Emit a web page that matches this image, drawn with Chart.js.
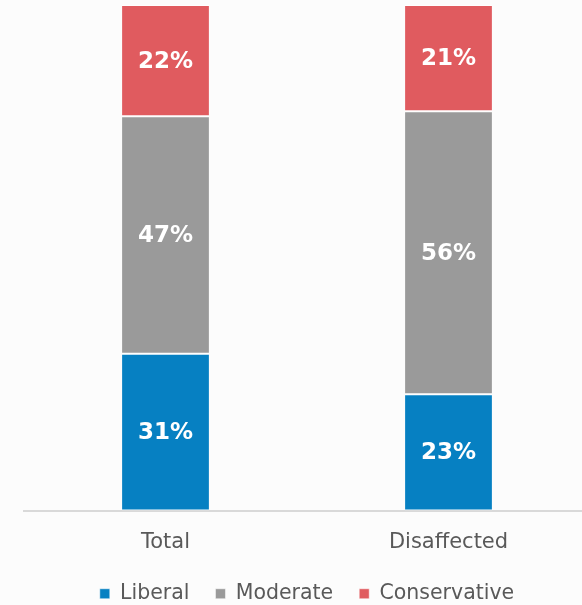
<!DOCTYPE html>
<html>
<head>
<meta charset="utf-8">
<script src="https://cdn.jsdelivr.net/npm/chart.js@4/dist/chart.umd.min.js"></script>
<style>
  html, body { margin: 0; padding: 0; background: #fcfcfc; overflow: hidden; }
  #wrap { width: 610px; height: 605px; }
</style>
</head>
<body>
<div id="wrap"><canvas id="chart"></canvas></div>
<script>
const categories = ['Total', 'Disaffected'];
const liberal = [31, 23];
const moderate = [47, 56];
const conservative = [22, 21];

const FONT = "'DejaVu Sans', sans-serif";

// white % labels centred in each segment
const segmentLabels = {
  id: 'segmentLabels',
  afterDatasetsDraw(chart) {
    const ctx = chart.ctx;
    ctx.save();
    ctx.fillStyle = '#ffffff';
    ctx.font = "bold 23px " + FONT;
    ctx.textAlign = 'center';
    ctx.textBaseline = 'middle';
    chart.data.datasets.forEach((ds, i) => {
      chart.getDatasetMeta(i).data.forEach((bar, j) => {
        const y = (bar.y + bar.base) / 2;
        ctx.fillText(ds.data[j] + '%', bar.x, y + 1);
      });
    });
    ctx.restore();
  }
};

function series(label, data, color) {
  return {
    label, data,
    backgroundColor: color,
    borderColor: '#ffffff',
    borderWidth: { top: 1, bottom: 1, left: 0, right: 0 },
    borderSkipped: false,
    barPercentage: 0.307,
    categoryPercentage: 1
  };
}

new Chart(document.getElementById('chart'), {
  type: 'bar',
  data: {
    labels: categories,
    datasets: [
      series('Liberal', liberal, '#0680c2'),
      series('Moderate', moderate, '#9a9a9a'),
      series('Conservative', conservative, '#e05b5f')
    ]
  },
  options: {
    responsive: true,
    maintainAspectRatio: false,
    animation: false,
    layout: { padding: { top: 5, left: 24, right: 20, bottom: -9 } },
    plugins: {
      legend: {
        position: 'bottom',
        labels: {
          boxWidth: 10, boxHeight: 10,
          padding: 26,
          color: '#595959',
          font: { family: FONT, size: 20.5 }
        }
      },
      tooltip: { enabled: false }
    },
    scales: {
      x: {
        stacked: true,
        grid: { display: false },
        border: { display: true, color: '#d9d9d9', width: 2 },
        ticks: { color: '#595959', font: { family: FONT, size: 21 }, padding: 11 },
        afterFit(scale) { scale.height = 47; }
      },
      y: {
        stacked: true,
        display: false,
        min: 0, max: 100
      }
    }
  },
  plugins: [segmentLabels]
});
</script>
</body>
</html>
